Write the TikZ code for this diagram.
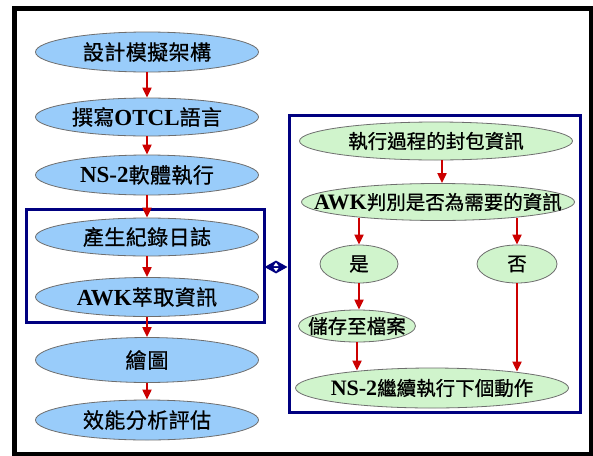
\documentclass[tikz,border=0pt]{standalone}
\usepackage{fontspec}
\setmainfont{Liberation Serif}
\newfontfamily\cjk[FakeBold=0.8]{Noto Sans CJK TC}
\newfontfamily\cjkb[FakeBold=0.8,LetterSpace=2]{Noto Sans CJK TC}
\usetikzlibrary{shapes.geometric,arrows.meta,calc}
\definecolor{bluefill}{RGB}{153,204,250}
\definecolor{greenfill}{RGB}{208,244,204}
\definecolor{edgegray}{RGB}{110,110,110}
\definecolor{navyline}{RGB}{0,0,128}
\definecolor{arrowred}{RGB}{204,0,0}
\newcommand{\latb}[1]{{\fontsize{23}{24}\selectfont\bfseries #1}}
\newcommand{\latg}[1]{{\fontsize{22}{23}\selectfont\bfseries #1}}
\newcommand{\fixw}[1]{\makebox[0pt][c]{#1}}
\tikzset{
  blueell/.style={ellipse, draw=edgegray, line width=0.8pt, fill=bluefill, inner sep=0pt,
    minimum width=223pt, font=\fontsize{21}{22}\selectfont},
  greenell/.style={ellipse, draw=edgegray, line width=0.8pt, fill=greenfill, inner sep=0pt,
    font=\fontsize{19.5}{21}\selectfont},
  flowarrow/.style={draw=arrowred, line width=2pt, -{Triangle[length=10pt,width=9pt]}, arrowred},
  groupbox/.style={draw=navyline, line width=3pt},
}
\begin{document}
\begin{tikzpicture}[x=1pt,y=-1pt]
\useasboundingbox (0,0) rectangle (593,455);
\fill[white] (0,0) rectangle (593,455);
\draw[line width=5pt] (14.5,8.5) rectangle (591,454);
% group boxes
\draw[groupbox] (26,209) rectangle (264,322);
\draw[groupbox] (289,115) rectangle (580,412);
% left column
\node[blueell, minimum height=40pt] (b1) at (147,52) {\fixw{\cjkb 設計模擬架構}};
\node[blueell, minimum height=38pt] (b2) at (147,117) {\fixw{{\cjkb 撰寫}\latb{OTCL}{\cjkb 語言}}};
\node[blueell, minimum height=40pt] (b3) at (147,175) {\fixw{\latb{NS-2}{\cjkb 軟體執行}}};
\node[blueell, minimum height=38pt] (b4) at (147,237) {\fixw{\cjkb 產生紀錄日誌}};
\node[blueell, minimum height=39pt] (b5) at (147,297) {\fixw{\latb{AWK}{\cjkb 萃取資訊}}};
\node[blueell, minimum height=45pt] (b6) at (147,360) {\fixw{\cjkb 繪\hspace{1pt}圖}};
\node[blueell, minimum height=40pt] (b7) at (147,420) {\fixw{\cjkb 效能分析評估}};
% right column
\node[greenell, minimum width=273pt, minimum height=38pt] (g1) at (436,141) {\fixw{\cjk 執行過程的封包資訊}};
\node[greenell, minimum width=273pt, minimum height=37pt] (g2) at (438,202) {\fixw{\latg{AWK}{\cjk 判別是否為需要的資訊}}};
\node[greenell, minimum width=78pt, minimum height=38pt] (yes) at (359,264) {\fixw{\cjk 是}};
\node[greenell, minimum width=80pt, minimum height=38pt] (no) at (517,264) {\fixw{\cjk 否}};
\node[greenell, minimum width=117pt, minimum height=32pt] (save) at (357,326) {\fixw{\cjk 儲存至檔案}};
\node[greenell, minimum width=273pt, minimum height=40pt] (g6) at (432,388) {\fixw{\latg{NS-2}{\cjk 繼續執行下個動作}}};
% connector diamond
\node[diamond, fill=navyline, inner sep=0pt, minimum width=23pt, minimum height=13pt] (dia) at (276,267) {};
\fill[white] ($(dia.center)+(-2.5,-1)$) -- ($(dia.center)+(2.5,-1)$) -- ($(dia.center)+(0,-4.5)$) -- cycle;
\fill[white] ($(dia.center)+(-2.5,1)$) -- ($(dia.center)+(2.5,1)$) -- ($(dia.center)+(0,4.5)$) -- cycle;
% arrows left
\draw[flowarrow] (b1.south) -- (b2.north);
\draw[flowarrow] (b2.south) -- (b3.north);
\draw[flowarrow] (b3.south) -- (b4.north);
\draw[flowarrow] (b4.south) -- (b5.north);
\draw[flowarrow] (b5.south) -- (b6.north);
\draw[flowarrow] (b6.south) -- (b7.north);
% arrows right
\draw[flowarrow] ($(g1.south)+(6,0)$) -- ($(g2.north)+(4,0)$);
\draw[flowarrow] ($(g2.south -| yes.north)+(0,-3)$) -- (yes.north);
\draw[flowarrow] ($(g2.south -| no.north)+(0,-3)$) -- (no.north);
\draw[flowarrow] (yes.south) -- (yes.south |- save.north);
\draw[flowarrow] (save.south) -- ($(save.south |- g6.north)+(0,3)$);
\draw[flowarrow] (no.south) -- ($(no.south |- g6.north)+(0,4)$);
\end{tikzpicture}
\end{document}
